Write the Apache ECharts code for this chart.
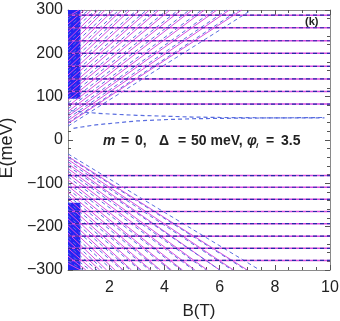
<!DOCTYPE html>
<html><head><meta charset="utf-8">
<script src="https://cdn.jsdelivr.net/npm/echarts@6/dist/echarts.min.js"></script>
<style>html,body{margin:0;padding:0;background:#fff}#c{width:340px;height:321px}</style>
</head><body><div id="c"></div>
<script>
// Flat (B-independent) levels at high field, meV
const flatUpper = [83, 112, 141, 170, 200, 229, 259, 288];
const flatLower = [-82, -109, -137, -165, -193, -222, -250, -278];
// Rising/falling Landau-like lines: energy where each enters at the left edge (B = 0.5 T)
// and the field (T) where it leaves the frame at E = +/-300 meV
const fanStartE      = [38, 45, 55, 66, 78, 92, 106, 120, 135, 150, 166, 182, 198, 215, 232, 250, 268, 285];
const fanUpperSolidB = [6.8, 6.35, 5.9, 5.45, 5.0, 4.6, 4.2, 3.8, 3.45, 3.1, 2.75, 2.45, 2.15, 1.85, 1.6, 1.35, 1.1, 0.9];
const fanDashStartE  = [32, 40, 50, 60, 72, 85, 99, 113, 128, 143, 159, 175, 191, 208, 225, 243, 261, 279];
const fanUpperDashB  = [7.15, 6.7, 6.25, 5.8, 5.35, 4.9, 4.5, 4.1, 3.7, 3.35, 3.0, 2.65, 2.35, 2.05, 1.75, 1.5, 1.25, 1.0];
const fanLowerSolidB = [7.0, 6.5, 6.0, 5.55, 5.1, 4.65, 4.25, 3.85, 3.5, 3.15, 2.8, 2.5, 2.2, 1.9, 1.65, 1.4, 1.15, 0.95];
const fanLowerDashB  = [7.45, 6.95, 6.45, 6.0, 5.5, 5.05, 4.6, 4.2, 3.8, 3.45, 3.1, 2.75, 2.45, 2.1, 1.8, 1.55, 1.3, 1.05];
const fanEdgeE = 300;
// Two dashed gap levels approaching Delta = 50 meV
const gapLevelA = [[0.7, 27], [1.0, 30], [1.5, 35], [2.0, 38], [3.0, 44], [4.0, 47], [5.0, 49], [6.0, 50], [8.0, 51], [9.8, 52]];
const gapLevelB = [[0.6, 68], [1.0, 65], [1.5, 62], [2.0, 60], [3.0, 57], [4.0, 55], [5.0, 53], [6.0, 52], [8.0, 51], [9.8, 51]];
const bMin = 0.5, bMax = 10;
const xMajor = [2, 4, 6, 8, 10];
const xMinor = [1, 1.5, 2.5, 3, 3.5, 4.5, 5, 5.5, 6.5, 7, 7.5, 8.5, 9, 9.5];

const MAG = '#d64ee0';
const BLUE = '#3a3ad0';
const BLUE2 = '#5a6ee0';
const series = [];
function solid(data, color, w) {
  series.push({type: 'line', data, showSymbol: false, silent: true, animation: false,
    lineStyle: {color: color || MAG, width: w || 1.2}});
}
function dashed(data, color, w) {
  series.push({type: 'line', data, showSymbol: false, silent: true, animation: false,
    lineStyle: {color: color || BLUE, width: w || 1.2, type: [4, 3]}});
}
// dense strip at lowest fields
series.push({type: 'line', data: [], silent: true, animation: false,
  markArea: {silent: true, itemStyle: {color: '#2323f2'}, data: [
    [{coord: [bMin, 95]}, {coord: [0.95, 300]}],
    [{coord: [bMin, -300]}, {coord: [0.95, -145]}]
  ]}});
fanUpperSolidB.forEach((b, i) => solid([[bMin, fanStartE[i]], [b, fanEdgeE]], MAG, 1));
fanUpperDashB.forEach((b, i) => dashed([[bMin, fanDashStartE[i]], [b, fanEdgeE]], BLUE2, 1));
fanLowerSolidB.forEach((b, i) => solid([[bMin, -fanStartE[i]], [b, -fanEdgeE]], MAG, 1));
fanLowerDashB.forEach((b, i) => dashed([[bMin, -fanDashStartE[i]], [b, -fanEdgeE]], BLUE2, 1));
flatUpper.concat(flatLower).forEach(e => {
  solid([[bMin, e], [bMax, e]], MAG, 1.5);
  dashed([[bMin, e], [bMax, e]], '#2a2aa8', 1.2);
});
dashed(gapLevelA, BLUE2, 1.2);
dashed(gapLevelB, BLUE2, 1.2);

const axCol = '#8a8a8a';
const lblStyle = {fontFamily: 'Liberation Sans', fontSize: 16, color: '#222'};
function xAx(pos, ticks, len, labels, line) {
  return {type: 'value', min: bMin, max: bMax, position: pos,
    axisLine: {show: line, onZero: false, lineStyle: {color: axCol, width: 1}},
    axisTick: {show: true, inside: true, length: len, customValues: ticks, lineStyle: {color: '#555'}},
    axisLabel: labels ? Object.assign({show: true, customValues: xMajor, margin: 10}, lblStyle) : {show: false},
    splitLine: {show: false},
    name: labels ? 'B(T)' : '', nameLocation: 'middle', nameGap: 33,
    nameTextStyle: {fontFamily: 'Liberation Sans', fontSize: 17, color: '#222'}};
}
function yAx(pos, labels) {
  return {type: 'value', min: -300, max: 300, interval: 100, position: pos,
    axisLine: {show: true, onZero: false, lineStyle: {color: axCol, width: 1}},
    axisTick: {show: true, inside: true, length: 5, lineStyle: {color: '#555'}},
    minorTick: {show: true, splitNumber: 5, length: 3, lineStyle: {color: '#555'}},
    axisLabel: labels ? Object.assign({show: true, margin: 5,
      formatter: v => String(v).replace('-', '\u2212')}, lblStyle) : {show: false},
    splitLine: {show: false}, minorSplitLine: {show: false},
    name: labels ? 'E(meV)' : '', nameLocation: 'middle', nameGap: 47,
    nameTextStyle: {fontFamily: 'Liberation Sans', fontSize: 18, color: '#222', padding: [0, 0, 0, -16]}};
}

const T = {fontFamily: 'Liberation Sans', fontSize: 14, fontWeight: 'bold', fill: '#222'};
const TI = Object.assign({}, T, {fontStyle: 'italic'});
function txt(s, x, y, st) {
  return {type: 'text', left: x, top: y, silent: true, z: 100,
    style: Object.assign({text: s}, st)};
}
const chart = echarts.init(document.getElementById('c'), null, {renderer: 'canvas'});
chart.setOption({
  animation: false,
  backgroundColor: '#fff',
  grid: {left: 68, right: 10, top: 10, bottom: 51, containLabel: false, outerBoundsMode: 'none'},
  xAxis: [xAx('bottom', xMajor, 5, true, true), xAx('bottom', xMinor, 3, false, false),
          xAx('top', xMajor, 5, false, true), xAx('top', xMinor, 3, false, false)],
  yAxis: [yAx('left', true), yAx('right', false)],
  series,
  graphic: [
    txt('m', 103, 134, TI), txt('=', 121, 134, T), txt('0,', 135, 134, T),
    txt('Δ', 159, 134, T), txt('=', 178, 134, T), txt('50 meV,', 191, 134, T),
    txt('φ', 247, 134, TI), txt('i', 256, 142, Object.assign({}, TI, {fontSize: 8})),
    txt('=', 266, 134, T), txt('3.5', 281, 134, T),
    txt('(k)', 305, 16, Object.assign({}, T, {fontSize: 11}))
  ]
});
</script>
</body></html>
